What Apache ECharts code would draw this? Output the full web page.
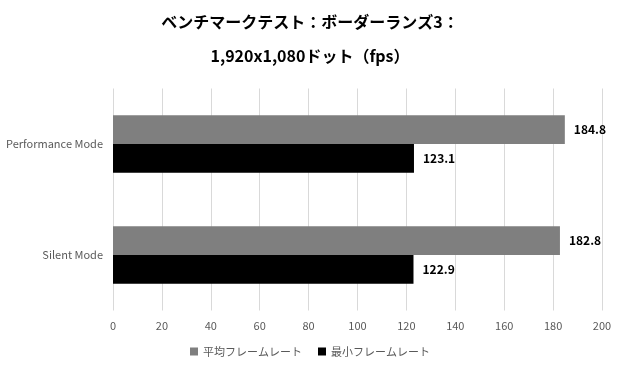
<!DOCTYPE html>
<html><head><meta charset="utf-8">
<script src="https://cdn.jsdelivr.net/npm/echarts@6/dist/echarts.min.js"></script>
<style>html,body{margin:0;padding:0;background:#fff}#c{width:620px;height:370px}</style>
</head><body><div id="c"></div>
<script>
const titleText = 'ベンチマークテスト：ボーダーランズ3：\n1,920x1,080ドット（fps）';
const categories = ['Performance Mode', 'Silent Mode'];
const seriesNames = ['平均フレームレート', '最小フレームレート'];
const avgValues = [184.8, 182.8];
const minValues = [123.1, 122.9];
const xTicks = {min: 0, max: 200, interval: 20};
const colors = ['#7f7f7f', '#000000'];

const font = '"Noto Sans CJK JP", "Noto Sans", sans-serif';
const chart = echarts.init(document.getElementById('c'));
chart.setOption({
  animation: false,
  title: {
    text: titleText, left: 'center', top: 0,
    textStyle: {fontFamily: font, fontSize: 16, fontWeight: 'bold', color: '#000', lineHeight: 34}
  },
  legend: {
    bottom: 8, left: 'center', itemWidth: 8, itemHeight: 8, itemGap: 16,
    icon: 'rect',
    textStyle: {fontFamily: font, fontSize: 11, color: '#595959'}
  },
  grid: {left: 113, right: 18, top: 88.5, bottom: 59.5, containLabel: false},
  xAxis: {
    type: 'value', min: xTicks.min, max: xTicks.max, interval: xTicks.interval,
    axisLine: {show: false}, axisTick: {show: false},
    splitLine: {lineStyle: {color: '#d9d9d9', width: 1}},
    axisLabel: {fontFamily: font, fontSize: 11, color: '#595959', margin: 10}
  },
  yAxis: {
    type: 'category', data: categories, inverse: true,
    axisLine: {show: false}, axisTick: {show: false},
    axisLabel: {fontFamily: font, fontSize: 11, color: '#595959', margin: 10}
  },
  series: [
    {name: seriesNames[0], type: 'bar', data: avgValues, itemStyle: {color: colors[0]},
     barGap: '0%', barCategoryGap: '48%',
     label: {show: true, position: 'right', distance: 9, fontFamily: font, fontSize: 12, fontWeight: 'bold', color: '#000'}},
    {name: seriesNames[1], type: 'bar', data: minValues, itemStyle: {color: colors[1]},
     barGap: '0%', barCategoryGap: '48%',
     label: {show: true, position: 'right', distance: 9, fontFamily: font, fontSize: 12, fontWeight: 'bold', color: '#000'}}
  ]
});
</script></body></html>
